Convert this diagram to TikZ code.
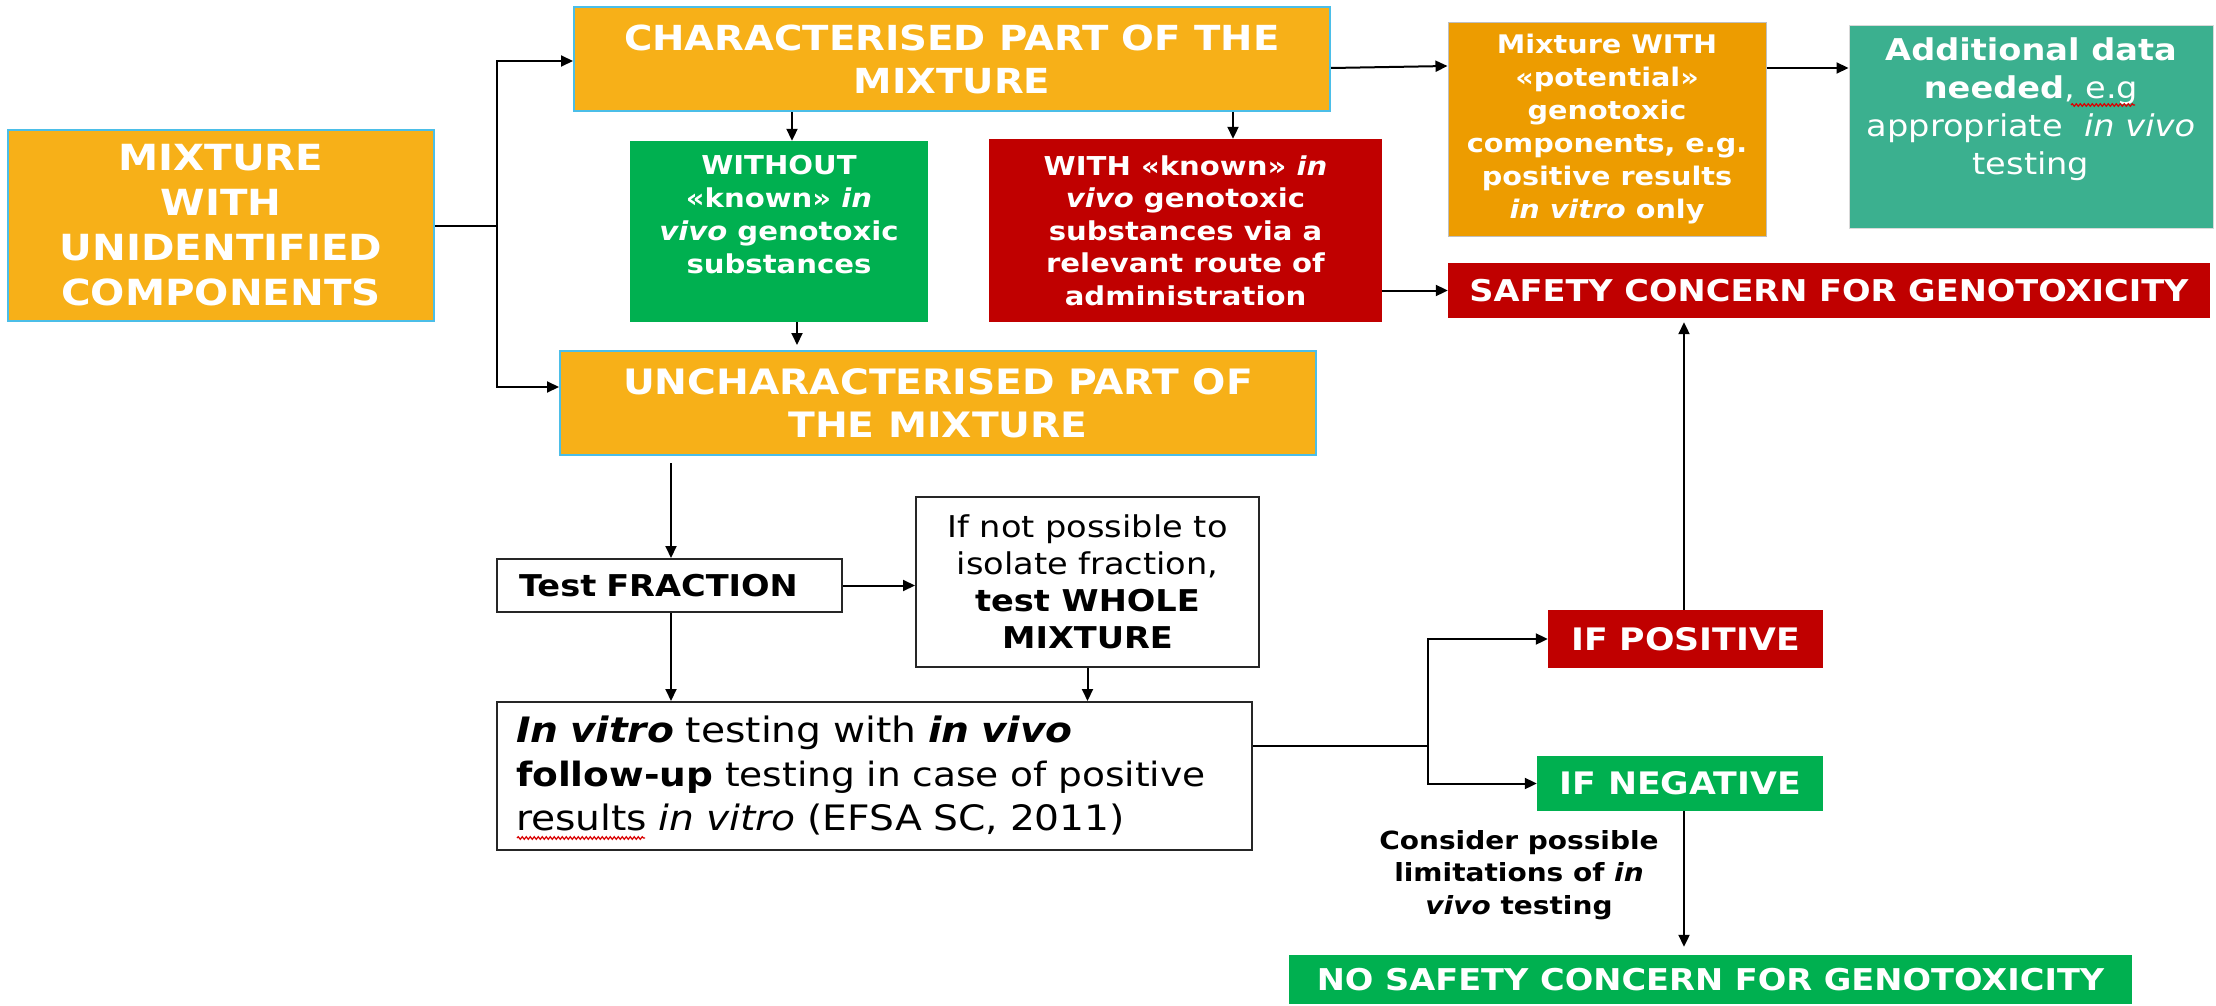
\documentclass[tikz,border=0pt]{standalone}
\usepackage{fontspec}
\setmainfont{DejaVu Sans}[FakeStretch=1.12]
\usetikzlibrary{arrows.meta,decorations.pathmorphing}
\definecolor{orng}{RGB}{247,176,24}
\definecolor{orngdk}{RGB}{237,156,0}
\definecolor{grn}{RGB}{0,176,80}
\definecolor{rd}{RGB}{192,0,0}
\definecolor{tealbox}{RGB}{59,176,143}
\definecolor{bluebd}{RGB}{75,190,232}
\newcommand\setfs[2]{\fontsize{#1}{#2}\selectfont}
\begin{document}
\begin{tikzpicture}[x=1pt,y=-1pt,
  box/.style={rectangle, inner sep=0pt, anchor=center, align=center},
  obox/.style={box, fill=orng, draw=bluebd, line width=2pt, text=white},
  cbox/.style={box, text=white},
  wbox/.style={box, draw=black!85, line width=2pt, fill=white, text=black},
  lbl/.style={inner sep=0pt, align=center},
  arr/.style={line width=2pt, -{Triangle[length=12pt,width=11pt]}},
  ln/.style={line width=2pt},
  squig/.style={draw=red!85!black, line width=1.2pt, decorate, decoration={snake, amplitude=1.3pt, segment length=4pt}}]
\useasboundingbox (0,0) rectangle (2216,1006);

% boxes
\node[obox, minimum width=426pt, minimum height=191pt, font=\setfs{36}{45}\bfseries] (mix) at (221,225.5) {MIXTURE\\WITH\\UNIDENTIFIED\\COMPONENTS};
\node[obox, minimum width=756pt, minimum height=104pt, font=\setfs{34.5}{43}\bfseries] (char) at (952,59) {CHARACTERISED PART OF THE\\MIXTURE};
\node[cbox, fill=grn, minimum width=298pt, minimum height=181pt] (without) at (779,231.5) {};
\node[lbl, anchor=north, text=white, font=\setfs{26}{33}\bfseries] (withoutT) at (779,155) {WITHOUT\\«known» \textit{in}\\\textit{vivo} genotoxic\\substances};
\node[cbox, fill=rd, minimum width=393pt, minimum height=183pt, font=\setfs{26}{32.5}\bfseries] (with) at (1185.5,230.5) {WITH «known» \textit{in}\\\textit{vivo} genotoxic\\substances via a\\relevant route of\\administration};
\node[cbox, fill=orngdk, draw=black!25, line width=1pt, minimum width=318pt, minimum height=213pt, font=\setfs{25.6}{33}\bfseries] (pot) at (1607,129.5) {Mixture WITH\\«potential»\\genotoxic\\components, e.g.\\positive results\\\textit{in vitro} only};
\node[cbox, fill=tealbox, draw=black!15, line width=1pt, minimum width=364pt, minimum height=202pt] (add) at (2031,127) {};
\node[lbl, anchor=north, text=white, font=\setfs{30}{38}] (addT) at (2031,38) {\textbf{Additional data}\\\textbf{needed}, e.g\\appropriate\ \ \textit{in vivo}\\testing};
\node[cbox, fill=rd, minimum width=762pt, minimum height=55pt, font=\setfs{30}{36}\bfseries] (safety) at (1829,290.5) {SAFETY CONCERN FOR GENOTOXICITY};
\node[obox, minimum width=756pt, minimum height=104pt, font=\setfs{35}{43}\bfseries] (unchar) at (938,403) {UNCHARACTERISED PART OF\\THE MIXTURE};
\node[wbox, align=left, text width=301pt, minimum width=345pt, minimum height=53pt, font=\setfs{30}{36}\bfseries] (frac) at (669.5,585.5) {Test FRACTION};
\node[wbox, minimum width=343pt, minimum height=170pt, font=\setfs{30}{37}] (notpos) at (1087.5,582) {If not possible to\\isolate fraction,\\\textbf{test WHOLE}\\\textbf{MIXTURE}};
\node[wbox, align=left, text width=717pt, minimum width=755pt, minimum height=148pt, font=\setfs{35}{44}] (invitro) at (874.5,776) {\textbf{\textit{In vitro}} testing with \textbf{\textit{in vivo}}\\{\setfs{33.5}{44}\textbf{follow-up} testing in case of positive}\\results \textit{in vitro} (EFSA SC, 2011)};
\node[cbox, fill=rd, minimum width=275pt, minimum height=58pt, font=\setfs{31}{36}\bfseries] (ifpos) at (1685.5,639) {IF POSITIVE};
\node[cbox, fill=grn, minimum width=286pt, minimum height=55pt, font=\setfs{31}{36}\bfseries] (ifneg) at (1680,783.5) {IF NEGATIVE};
\node[cbox, fill=grn, minimum width=843pt, minimum height=49pt, font=\setfs{30}{36}\bfseries] (nosafe) at (1710.5,979.5) {NO SAFETY CONCERN FOR GENOTOXICITY};
\node[lbl, font=\setfs{25}{32.5}\bfseries] (consider) at (1519,875) {Consider possible\\limitations of \textit{in}\\\textit{vivo} testing};

% spell-check marks
\draw[squig] (2071,105) -- (2135,105);
\draw[squig] (517,838) -- (645,838);

% connectors
\coordinate (jtop) at (497,61);
\coordinate (jbot) at (497,387);
\coordinate (split) at (1428,746);
\draw[ln] (mix.east) -- (jtop |- mix.east);
\draw[arr] (jtop |- mix.east) -- (jtop) -- (jtop -| char.west);
\draw[arr] (jtop |- mix.east) -- (jbot) -- (jbot -| unchar.west);
\draw[arr] ([xshift=13pt]without.north |- char.south) -- ([xshift=13pt]without.north);
\draw[arr] ([xshift=47.5pt]with.north |- char.south) -- ([xshift=47.5pt]with.north);
\draw[arr, shorten >=5pt] ([xshift=18pt]without.south) -- ([xshift=18pt]without.south |- unchar.north);
\draw[arr] ([yshift=-9pt]char.east) -- ([yshift=63.5pt]pot.west);
\draw[arr] ([yshift=61.5pt]pot.east) -- ([yshift=61.5pt]pot.east -| add.west);
\draw[arr] (with.east |- safety.west) -- (safety.west);
\draw[arr, shorten <=7pt] ([xshift=1.5pt]frac.north |- unchar.south) -- ([xshift=1.5pt]frac.north);
\draw[arr] (frac.east) -- (frac.east -| notpos.west);
\draw[arr] ([xshift=1.5pt]frac.south) -- ([xshift=1.5pt]frac.south |- invitro.north);
\draw[arr] (notpos.south) -- (notpos.south |- invitro.north);
\draw[ln] ([yshift=30pt]invitro.east) -- (split);
\draw[arr] (split) -- (split |- ifpos.west) -- (ifpos.west);
\draw[arr] (split) -- (split |- ifneg.west) -- (ifneg.west);
\draw[arr, shorten >=4pt] ([xshift=-1.5pt]ifpos.north) -- ([xshift=-1.5pt]ifpos.north |- safety.south);
\draw[arr, shorten >=8pt] ([xshift=4pt]ifneg.south) -- ([xshift=4pt]ifneg.south |- nosafe.north);
\end{tikzpicture}
\end{document}
